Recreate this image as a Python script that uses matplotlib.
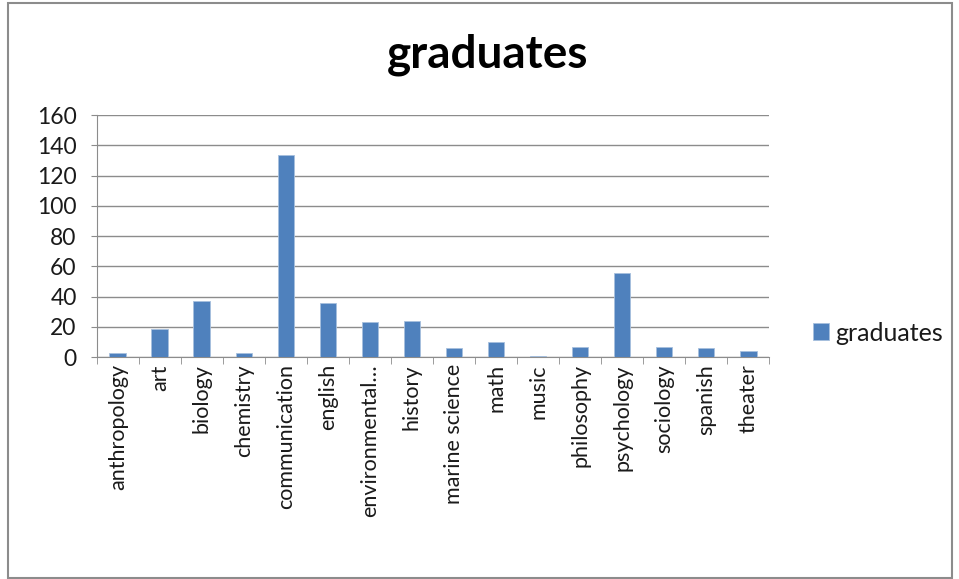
import matplotlib.pyplot as plt
import numpy as np
from matplotlib.patches import Rectangle

categories = ['anthropology', 'art', 'biology', 'chemistry', 'communication',
              'english', 'environmental\u2026', 'history', 'marine science',
              'math', 'music', 'philosophy', 'psychology', 'sociology',
              'spanish', 'theater']
graduates = [3, 19, 37, 3, 134, 36, 23, 24, 6, 10, 1, 7, 56, 7, 6, 4]

plt.rcParams['font.family'] = ['Lato', 'DejaVu Sans']

fig = plt.figure(figsize=(9.59, 5.79), dpi=100)
ax = fig.add_axes([0.101, 0.383, 0.701, 0.418])

x = np.arange(len(categories))
ax.bar(x, graduates, width=0.4, color='#4f81bd', edgecolor='#a7c0de',
       linewidth=0.6, label='graduates', zorder=3)

ax.set_xlim(-0.5, len(categories) - 0.5)
ax.set_ylim(0, 160)
ax.set_yticks(np.arange(0, 161, 20))
ax.yaxis.grid(True, color='#8c8c8c', linewidth=1.0, zorder=0)
ax.set_xticks(x)
ax.set_xticklabels(categories, rotation=90, fontsize=15.5, color='#1a1a1a')
ax.set_xticks(np.arange(-0.5, len(categories), 1), minor=True)
ax.tick_params(axis='x', which='major', length=0, pad=5)
ax.tick_params(axis='x', which='minor', length=5, color='#8c8c8c', direction='out')
ax.tick_params(axis='y', labelsize=16.5, labelcolor='#1a1a1a', length=4.5,
               color='#8c8c8c', direction='out', pad=10)

for side in ['top', 'right']:
    ax.spines[side].set_visible(False)
for side in ['left', 'bottom']:
    ax.spines[side].set_color('#8c8c8c')

fig.text(0.508, 0.905, 'graduates', fontsize=33, fontweight='bold',
         ha='center', va='center')

ax.legend(loc='center left', bbox_to_anchor=(1.065, 0.1), frameon=False,
          borderpad=0, borderaxespad=0, fontsize=18, handlelength=0.64,
          handleheight=0.64, handletextpad=0.25, labelcolor='#1a1a1a')

fig.patches.append(Rectangle((8 / 959, 1 / 579), 944 / 959, 575 / 579,
                             transform=fig.transFigure, fill=False,
                             edgecolor='#8c8c8c', linewidth=1.5))

fig.savefig('out.png', dpi=100)
